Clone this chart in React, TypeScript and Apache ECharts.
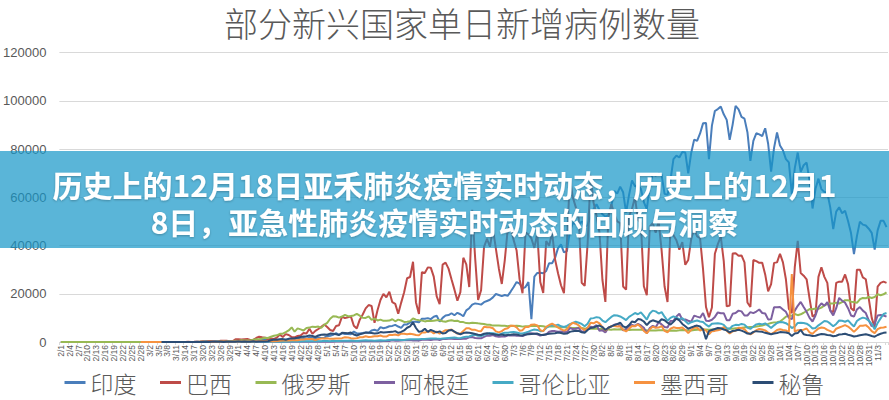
import React, { useEffect, useRef } from "react";
import * as echarts from "echarts";

const _ = null;

const MONTHS = [2, 3, 4, 5, 6, 7, 8, 9, 10, 11];
const MONTH_DAYS = [29, 31, 30, 31, 30, 31, 31, 30, 31, 6];
const categories: string[] = [];
MONTHS.forEach((m, i) => {
  for (let d = 1; d <= MONTH_DAYS[i]; d++) categories.push(`${m}/${d}`);
});

const TITLE = "部分新兴国家单日新增病例数量";
const BANNER_TEXT =
  "历史上的12月18日亚禾肺炎疫情实时动态，历史上的12月1\n8日，亚急性肺炎疫情实时动态的回顾与洞察";

const SERIES_NAMES = ["印度", "巴西", "俄罗斯", "阿根廷", "哥伦比亚", "墨西哥", "秘鲁"];
const COLORS = ["#4a7ebb", "#be4b48", "#98b954", "#7d60a0", "#46aac5", "#f69240", "#2c4d75"];

const Y_MIN = 0;
const Y_MAX = 120000;
const Y_STEP = 20000;

// 印度
const india = [
  0,1,1,0,0,0,0,0,0,0, 0,0,0,0,0,0,0,0,0,0, 0,0,0,0,0,0,0,0,0,
  0,1,1,22,2,1,3,5,9,15, 8,10,10,7,10,14,20,25,27,58, 78,69,94,74,86,73,153,136,120,187, 309,
  424,486,560,579,609,484,573,565,813,871, 854,758,1243,1031,886,1061,922,1371,1580,1239, 1537,1292,1667,1408,1835,1607,1568,1902,1705,1801,
  2396,2564,2952,3656,2971,3602,3344,3339,3175,4311, 3592,3562,3726,3991,3808,4794,5050,4628,6154,5720, 6023,6536,6667,7111,6414,5843,7293,7300,8105,8380, 8392,
  8171,9633,9629,9889,9471,10438,10864,8442,9987,10956, 11156,11929,11087,12085,11502,10667,13103,14000,15500,16000, 15800,15500,16500,17000,17500,18500,19900,19500,19000,19500,
  19148,20903,22771,24850,24248,22252,22752,24879,9500,27114, 28637,28701,28498,29429,32695,32607,34884,38902,40425,37148, 37724,45720,49310,48916,48661,49931,47704,48513,52123,55079, 57118,
  54736,52972,52050,52509,56282,62538,61537,64399,62064,53601, 60963,66999,64553,65002,63490,57981,55079,64531,69652,68898, 69878,69239,61408,60975,67151,75760,77266,76472,78761,78512, 69921,
  78357,83883,83341,86432,90632,90802,75809,89706,95735,96551, 97570,94372,92071,83809,90123,97894,96424,93337,92605,86961, 75083,83347,86508,86052,85362,88600,82170,70589,80472,86821,
  81484,79476,75829,74442,61267,72049,78524,70496,73272,74383, 66732,55342,63509,67708,63371,62212,61871,55722,46790,54044, 55839,53370,54366,50129,45149,36469,43893,49881,48648,48268, 46964,
  45231,38310,46253,50210,50209,47638,
];

// 巴西
const brazil = [
  0,0,0,0,0,0,0,0,0,0, 0,0,0,0,0,0,0,0,0,0, 0,0,0,0,0,1,0,0,1,
  0,0,0,0,5,5,6,6,12,9, 18,25,21,23,79,34,57,137,193,283, 224,418,345,310,232,482,502,487,352,323, 1138,
  1119,1074,1146,1222,852,926,1661,2210,1930,1781, 1089,1442,1261,1832,3058,2105,3257,2917,2055,1927, 2498,2678,3735,3503,5514,3379,4613,5385,6276,7218,
  6209,4970,4588,6633,6935,10503,9888,10222,10611,6760, 5632,9258,11385,13944,15305,14919,7938,13140,17408,19951, 18508,20803,16508,15813,11687,16324,20599,26417,26928,33274, 16409,
  11598,28936,28633,30925,30830,27075,18912,15654,32091,32913, 30412,25982,21704,17110,20647,34918,32188,22765,54771,34666, 17459,21432,39436,42725,39483,46860,38693,30476,24052,33846,
  46712,48105,42223,37923,26051,20229,45305,44571,42907,39023, 45048,24831,20286,41857,39924,45403,34177,28532,23529,20257, 41008,67860,59961,55891,51147,24578,23284,40816,69074,57837, 52383,
  45392,25800,16641,51603,57152,53139,49970,49242,23010,21700, 52160,55155,60091,50644,49274,23101,19373,47784,49298,45323, 50032,38000,23000,16600,47134,44235,42189,38307,41350,32000, 34000,
  42659,46934,43773,43000,30168,14521,10273,14279,36600,40557, 43718,33523,14768,15155,36653,36820,35757,35900,33000,16389, 14500,34000,33500,32800,32800,28000,21000,24000,32800,33000,
  36600,33000,26000,13700,12000,31000,41906,28600,27500,26000, 18000,10500,11500,27000,31000,27000,24500,13000,12400,24500, 25000,25000,28000,24000,14000,13000,30000,30000,26800,26000, 18000,
  10000,6000,23000,24500,25000,24500,
];

// 俄罗斯
const russia = [
  0,0,0,0,0,0,0,0,0,0, 0,0,0,0,0,0,0,0,0,0, 0,0,0,0,0,0,0,0,0,
  0,1,0,0,1,3,4,0,3,3, 2,8,17,14,4,30,21,33,52,53, 54,61,71,57,163,182,196,228,270,302, 500,
  440,771,601,582,658,954,1154,1175,1459,1786, 1667,2186,2558,2774,3388,3448,4070,4785,6060,4268, 5642,5236,4774,5849,5966,6361,6198,6411,5841,7099,
  7933,9623,10633,10581,10102,10559,11231,10699,10817,11012, 11656,10899,10028,9974,10598,9200,9709,8926,9263,8764, 8849,8894,9434,8599,9268,8915,8338,8371,8572,9779, 9268,
  9035,8863,8536,8831,8726,8855,8984,8985,8595,8404, 8779,8987,8706,8835,8246,8248,7843,7790,7972,7889, 7728,7600,7425,7176,7113,6800,6852,6791,6719,6693,
  6556,6760,6632,6736,6611,6368,6562,6509,6635,6635, 6611,6615,6537,6248,6422,6428,6406,6234,6109,6170, 5842,5862,5811,5848,5871,5765,5635,5475,5509,5482, 5462,
  5427,5462,5159,5204,5102,5241,5212,5241,5189,5118, 4945,5102,5057,5061,5065,4969,4839,4748,4790,4767, 4870,4921,4852,4696,4676,4744,4711,4829,4980,4897, 4729,
  4729,4952,5110,5185,5205,5195,5099,5185,5218,5363, 5406,5449,5488,5509,5529,5670,5762,5905,6065,6148, 6196,6215,6431,6595,6800,7212,7523,7867,8135,8232,
  8481,9412,10499,10888,10888,11615,11115,11493,12126,12846, 13634,13592,13868,13754,14231,15150,15700,15982,15982,16319, 15971,16521,17340,17347,16710,16550,16202,17717,18283,18140, 18665,
  18257,18648,19768,19404,19768,20582,
];

// 阿根廷
const argentina = [
  _,_,_,_,_,_,_,_,_,_, _,_,_,_,_,_,_,_,_,_, _,_,_,_,_,_,_,_,_,
  _,_,1,0,0,1,6,1,4,2, 2,12,3,3,11,9,14,14,31,31, 27,76,41,86,87,115,101,55,75,146, 88,
  167,101,132,86,75,83,99,84,92,89, 138,75,146,124,96,158,84,101,89,112, 70,81,100,110,111,88,98,111,148,124,
  124,112,100,170,188,176,163,241,240,246, 312,165,271,308,364,279,339,305,327,368, 450,438,723,485,491,600,703,718,795,604, 736,
  564,904,949,929,840,1040,1128,834,1225,1226, 1386,1391,1226,1282,1208,1374,1393,1958,2060,1634, 1581,1531,2146,2635,2606,2886,2401,2189,2262,2262,
  2667,2845,2744,2590,2632,2439,2979,3604,3663,3449, 3221,2657,2973,3099,4250,4518,4518,4230,4338,4222, 3967,5782,5344,5493,5771,4180,4623,5939,6377,6134, 6966,
  4688,4824,3979,5926,6377,7147,7482,6834,4796,5376, 6698,7043,6693,7498,6840,5929,3645,5758,6693,6127, 8225,7296,6174,5974,8713,8771,10550,11717,9230,9309, 8800,
  8431,10933,10504,10104,12026,8841,8713,9230,10400,12259, 11905,11956,9056,9056,11674,11985,13010,12701,10982,10982, 12401,11980,12625,13467,12027,11807,9376,9392,14392,14392,
  14500,13500,12500,10000,9500,13000,15000,16600,14500,12500, 10000,8500,11000,14500,16000,15000,16500,13000,11000,14000, 18300,17100,16300,14000,11000,10500,13500,14500,13000,12000, 9000,
  6500,7500,11000,11200,11000,10500,
];

// 哥伦比亚
const colombia = [
  _,_,_,_,_,_,_,_,_,_, _,_,_,_,_,_,_,_,_,_, _,_,_,_,_,_,_,_,_,
  _,_,_,_,_,1,0,0,2,0, 6,0,7,8,10,11,21,28,9,35, 52,25,46,72,92,21,48,69,94,96, 108,
  110,90,100,80,90,110,100,270,80,220, 150,100,80,140,120,150,70,170,270,200, 190,220,260,290,280,320,390,360,350,490,
  450,350,500,400,420,500,500,550,600,500, 450,550,650,700,650,600,550,650,700,650, 700,800,900,950,900,800,850,1000,1100,1150, 1100,
  1100,1200,1250,1400,1500,1450,1400,1300,1500,1600, 1700,1800,1900,1700,1600,2000,2200,2300,2800,3000, 2600,2500,3000,3300,3700,3600,3400,3000,3500,3800,
  3800,4000,4200,3900,3600,3500,3900,4300,4800,5200, 5000,4500,4600,5800,6700,6900,6800,7200,6500,6200, 6700,7400,7900,8400,8000,7500,6500,7600,9700,9900, 10300,
  10100,8900,8200,9300,10400,11100,11000,10600,9900,9100, 10400,11200,12000,11500,12300,10800,9300,11800,13000,12700, 11800,12400,10500,8800,10000,10600,10100,9400,9900,8700, 7500,
  8200,8600,8900,8500,8300,7200,6400,7600,7700,7800, 7600,7100,5700,5500,6700,7100,7000,7500,7200,6000, 5400,6400,7300,7600,7300,7700,6800,5800,6900,7900,
  8300,8200,7800,7000,5800,6400,7900,8000,7900,7600, 6800,5600,5800,6900,7800,8700,8500,7600,6500,7500, 8900,8800,8400,9000,7600,6400,8700,9600,10100,9800, 8800,
  7500,5300,7900,9800,11600,12000,
];

// 墨西哥
const mexico = [
  _,_,_,_,_,_,_,_,_,_, _,_,_,_,_,_,_,_,_,_, _,_,_,_,_,_,_,1,3,
  0,1,0,0,0,2,0,0,0,0, 4,4,3,11,15,11,29,35,46,39, 48,86,51,49,69,110,131,137,144,170, 183,
  198,164,178,253,213,296,354,377,410,416, 366,300,310,450,500,580,630,570,760,690, 680,1030,1000,1200,1230,1230,850,1220,1400,1470,
  1520,1300,1300,1430,1500,1600,1980,1900,1600,1500, 1560,1990,1990,2400,2110,2200,2400,2400,2700,2250, 2250,2960,2900,3100,2750,3460,3460,3200,3400,3200, 2900,
  2750,3890,3900,4400,4440,3590,4300,3500,4200,4900, 4880,5200,4150,3500,3400,4600,5660,5660,5030,5030, 4600,4500,6300,6100,6100,5700,4400,4000,4500,5400,
  5680,6740,6740,6050,4700,4900,6260,6200,7200,7300, 6900,4900,4500,6300,7050,7610,6900,6000,5300,4700, 5170,7000,8000,7570,6900,5600,4900,5800,8000,7730, 8460,
  7700,6150,4760,5800,6600,6600,6400,6500,5000,4400, 5500,6600,6500,7300,6200,4600,3600,5300,6300,5900, 6000,6600,4600,4000,5500,6100,5800,5800,6000,5000, 3700,
  5000,5900,6000,4700,5300,4800,3200,4500,4600,4900, 5200,6200,4700,3500,4400,4700,5900,5800,5300,3900, 3200,3900,4900,5400,5200,4800,3900,3300,4000,5000,
  5300,5000,4800,4000,28115,4300,4900,5000,5100,5600, 4000,3400,4600,5600,6000,5800,5000,4500,3900,5500, 6000,6500,7000,6400,5400,4200,5400,6700,6700,7000, 6000,
  4500,3700,5300,5900,6000,6300,
];

// 秘鲁
const peru = [
  _,_,_,_,_,_,_,_,_,_, _,_,_,_,_,_,_,_,_,_, _,_,_,_,_,_,_,_,_,
  _,_,_,_,_,1,5,1,2,2, 2,6,16,10,33,15,31,89,29,29, 55,45,53,64,64,55,45,84,100,98, 121,
  258,91,181,151,99,291,124,171,200,230, 300,700,1000,900,1100,1200,900,1300,1500,1600, 1800,2100,2300,2400,2700,2500,2100,2700,3000,3100,
  3000,3500,3400,3200,2900,3800,3700,3600,3900,3100, 2700,3200,3500,3900,3800,3700,3500,3600,4100,3900, 4000,4100,4200,4500,3800,4200,4800,5900,6500,8100, 5800,
  4200,4500,5500,4200,5000,4500,4000,4400,3500,3700, 4800,5000,4300,3600,3200,3700,3900,3800,3600,3300, 3000,2900,3400,3600,3400,3300,3000,2900,3100,2800,
  2900,3000,3200,3100,2800,2700,3100,3200,3300,3400, 3500,3000,2900,3200,3400,3500,3600,3900,3700,3400, 3500,4200,4500,4700,4600,4000,3800,5000,5800,6000, 6500,
  6800,6200,5000,5900,6500,7000,7400,8000,6500,6000, 7000,8500,8200,9500,9300,8500,7000,8400,9000,8600, 8200,9400,9000,8000,7200,8400,9700,9000,7500,6500, 5500,
  6000,6500,6800,6400,5200,1200,4500,5000,5400,5800, 5700,5200,4800,4000,4600,4800,5100,4700,4200,3500, 3400,4200,4500,4300,4200,3800,3500,3200,3500,3700,
  4100,4000,3900,3600,2500,3500,3700,5000,3200,2900, 2800,2500,2600,3000,3300,3200,2900,2800,2400,2600, 3100,3200,3400,3000,2700,2300,2500,2800,3000,3200, 2900,
  2500,2200,2900,3400,3800,3900,
];

const SERIES_DATA = [india, brazil, russia, argentina, colombia, mexico, peru];

const CJK = '"Noto Sans CJK SC", "Noto Sans", sans-serif';
const LATIN = '"Liberation Sans", Arial, sans-serif';

export default function App() {
  const ref = useRef<HTMLDivElement>(null);

  useEffect(() => {
    const chart = echarts.init(ref.current as HTMLDivElement, null, { renderer: "svg" });
    const showLabel = (index: number) => index % 3 === 0 && index <= 276;
    chart.setOption({
      animation: false,
      backgroundColor: "#ffffff",
      color: COLORS,
      title: {
        text: TITLE,
        left: 224,
        top: 5,
        padding: 0,
        textStyle: { fontSize: 34, lineHeight: 34, fontWeight: 300, color: "#595959", fontFamily: CJK },
      },
      legend: {
        data: SERIES_NAMES,
        left: "center",
        top: 366,
        icon: "rect",
        itemWidth: 21,
        itemHeight: 3,
        itemGap: 23.5,
        textStyle: { fontSize: 23, color: "#595959", fontFamily: CJK, fontWeight: 300 },
      },
      grid: { left: 58, top: 52.5, width: 830, height: 289.5, containLabel: false },
      xAxis: {
        type: "category",
        data: categories,
        boundaryGap: true,
        axisLine: { show: true, lineStyle: { color: "#d9d9d9", width: 1 } },
        axisTick: { show: true, interval: (i: number) => i % 3 === 0, length: 3, lineStyle: { color: "#d9d9d9" } },
        axisLabel: {
          interval: showLabel,
          rotate: 90,
          fontSize: 8.5,
          color: "#595959",
          fontFamily: LATIN,
          margin: 3,
        },
        splitLine: { show: false },
      },
      yAxis: {
        type: "value",
        min: Y_MIN,
        max: Y_MAX,
        interval: Y_STEP,
        axisLine: { show: false },
        axisTick: { show: false },
        axisLabel: {
          fontSize: 13,
          color: "#595959",
          fontFamily: LATIN,
          margin: 13,
          formatter: (v: number) => String(v),
        },
        splitLine: { lineStyle: { color: "#d9d9d9", width: 1 } },
      },
      series: SERIES_NAMES.map((name, i) => ({
        name,
        type: "line",
        data: SERIES_DATA[i],
        symbol: "none",
        showSymbol: false,
        connectNulls: false,
        lineStyle: { width: 2, color: COLORS[i] },
        itemStyle: { color: COLORS[i] },
        z: 2 + i,
      })),
      graphic: {
        elements: [
          {
            type: "rect",
            z: 100,
            shape: { x: 0, y: 151, width: 889, height: 97 },
            style: { fill: "rgba(20,150,200,0.7)" },
          },
          {
            type: "text",
            z: 101,
            x: 444.5,
            y: 202,
            style: {
              text: BANNER_TEXT,
              fill: "#ffffff",
              fontSize: 30,
              fontWeight: "bold",
              fontFamily: CJK,
              align: "center",
              verticalAlign: "middle",
              lineHeight: 37,
              textShadowColor: "rgba(0,0,0,0.25)",
              textShadowBlur: 2,
              textShadowOffsetY: 1,
            },
          },
        ],
      },
    });
    return () => chart.dispose();
  }, []);

  return (
    <div
      ref={ref}
      style={{ position: "fixed", left: 0, top: 0, width: 889, height: 400, background: "#fff" }}
    />
  );
}
